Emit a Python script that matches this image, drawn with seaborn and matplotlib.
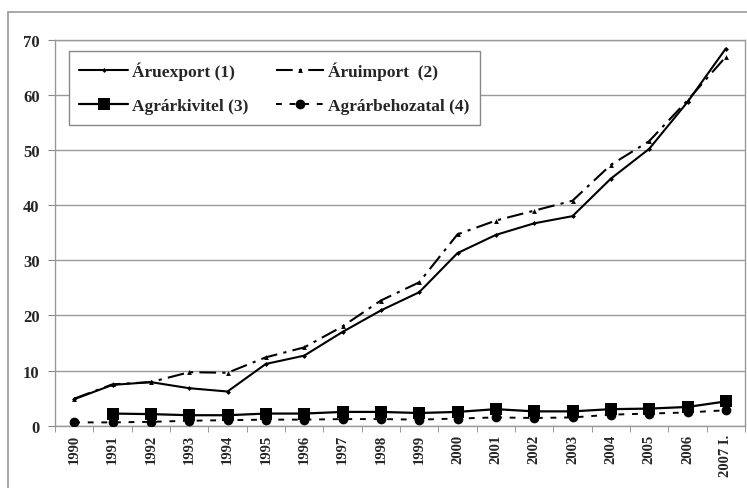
import matplotlib
matplotlib.use("Agg")
import matplotlib.pyplot as plt
import seaborn as sns
import numpy as np
import pandas as pd
from matplotlib.patches import Rectangle

years = ["1990", "1991", "1992", "1993", "1994", "1995", "1996", "1997", "1998",
         "1999", "2000", "2001", "2002", "2003", "2004", "2005", "2006", "2007 I."]
aruexport = [4.8, 7.4, 7.9, 6.8, 6.2, 11.2, 12.7, 17.0, 20.9, 24.2, 31.3, 34.6,
             36.7, 38.0, 44.8, 50.2, 58.7, 68.4]
aruimport = [4.9, 7.5, 7.9, 9.7, 9.6, 12.4, 14.2, 18.0, 22.7, 26.0, 34.7, 37.2,
             39.0, 40.8, 47.3, 51.6, 59.0, 66.9]
agrarkivitel = [np.nan, 2.2, 2.1, 1.9, 1.9, 2.2, 2.2, 2.5, 2.5, 2.3, 2.5, 3.0,
                2.6, 2.6, 3.0, 3.1, 3.4, 4.4]
agrarbehozatal = [0.6, 0.6, 0.7, 0.9, 1.0, 1.1, 1.1, 1.2, 1.2, 1.1, 1.3, 1.5,
                  1.4, 1.5, 2.0, 2.2, 2.4, 2.8]
labels = ["Áruexport (1)", "Áruimport  (2)", "Agrárkivitel (3)", "Agrárbehozatal (4)"]
yticks = [0, 10, 20, 30, 40, 50, 60, 70]

sns.set_style("white")
plt.rcParams['font.family'] = ['Liberation Serif', 'DejaVu Serif']
plt.rcParams['font.weight'] = 'bold'

fig = plt.figure(figsize=(7.47, 4.89), dpi=100)
ax = fig.add_axes([55/747, 1-426.7/489, (745-55)/747, (426.7-40.7)/489])

# outer frame
fig.patches.append(Rectangle((8/747, -0.1), 1.2, 1-13/489+0.1, transform=fig.transFigure,
                             fill=False, edgecolor='#999999', linewidth=1.2, zorder=0))

x = np.arange(len(years))
df = pd.DataFrame({"x": x, "exp": aruexport, "imp": aruimport,
                   "kiv": agrarkivitel, "beh": agrarbehozatal})

sns.lineplot(data=df, x="x", y="beh", ax=ax, color="black", linewidth=1.4,
             linestyle=(0, (3, 4)), marker="o", markersize=7, markeredgewidth=0,
             label=labels[3], zorder=3)
sns.lineplot(data=df.dropna(), x="x", y="kiv", ax=ax, color="black", linewidth=1.6,
             marker="s", markersize=9, markeredgewidth=0, label=labels[2], zorder=4)
sns.lineplot(data=df, x="x", y="imp", ax=ax, color="black", linewidth=1.5,
             linestyle=(0, (8, 3, 1.5, 3)), marker="^", markersize=3.5,
             markeredgewidth=0, label=labels[1], zorder=3)
sns.lineplot(data=df, x="x", y="exp", ax=ax, color="black", linewidth=1.5,
             marker="D", markersize=2.5, markeredgewidth=0, label=labels[0], zorder=5)

ax.set_xlim(-0.5, len(years) - 0.5)
ax.set_ylim(0, 70)
ax.set_yticks(yticks)
ax.set_yticklabels([str(v) for v in yticks], fontsize=12, fontweight='bold')
ax.set_xticks(x)
ax.set_xticklabels(years, rotation=90, fontsize=10.5, fontweight='bold')
ax.set_xticks(np.arange(-0.5, len(years)), minor=True)
ax.tick_params(axis='x', which='major', length=0, pad=6)
ax.tick_params(axis='x', which='minor', length=4, color='#888888', direction='out', bottom=True)
ax.tick_params(axis='y', length=5, color='#888888', direction='out', left=True, pad=6)
ax.set_xlabel("")
ax.set_ylabel("")
ax.grid(axis='y', color='#999999', linewidth=1.0)
ax.set_axisbelow(True)
for s in ax.spines.values():
    s.set_color('#999999')
    s.set_linewidth(1.0)

handles, labs = ax.get_legend_handles_labels()
hmap = dict(zip(labs, handles))
# column-major fill for 2 columns: col1 = exp, kiv ; col2 = imp, beh
order = [labels[0], labels[2], labels[1], labels[3]]
leg = ax.legend([hmap[l] for l in order], order, ncol=2, loc='upper left',
                bbox_to_anchor=(14/690, 1 - 11.5/386), borderaxespad=0,
                frameon=True, fancybox=False,
                edgecolor='#888888', framealpha=1,
                prop={'weight': 'bold', 'size': 12.5}, handlelength=2.8,
                columnspacing=1.6, borderpad=0.6, labelspacing=1.05, handletextpad=0.2)
leg.get_frame().set_linewidth(1.0)

fig.savefig("out.png", dpi=100)
